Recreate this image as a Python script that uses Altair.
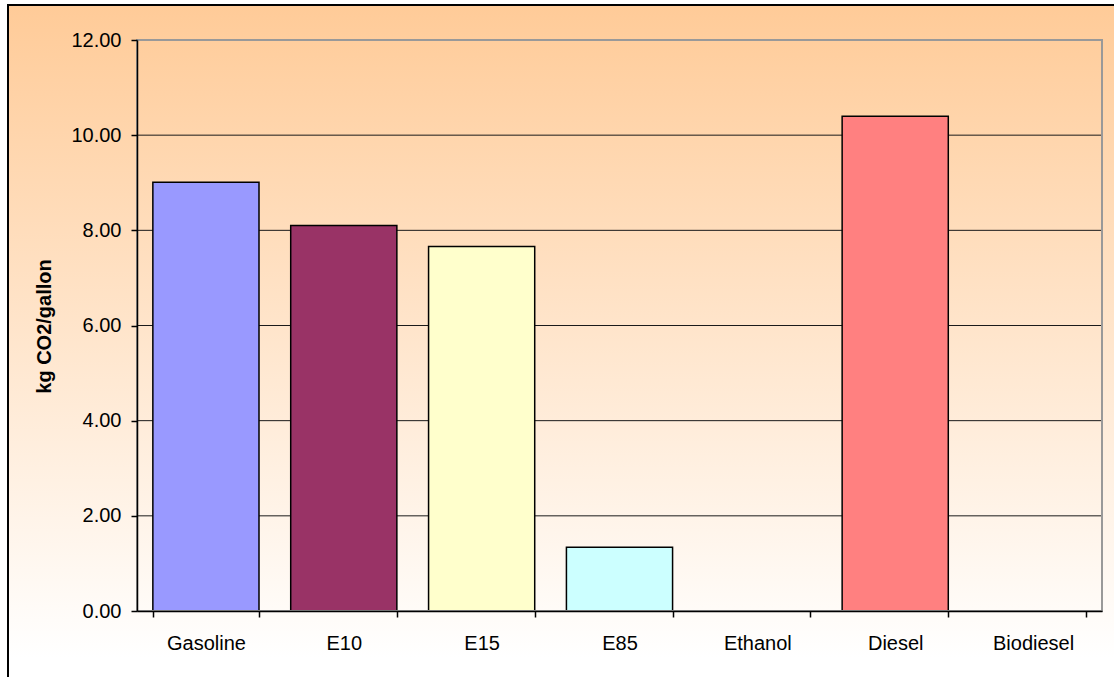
import altair as alt
import pandas as pd

fuels = ["Gasoline", "E10", "E15", "E85", "Ethanol", "Diesel", "Biodiesel"]
co2 = [9.01, 8.10, 7.66, 1.34, 0.0, 10.40, 0.0]
bar_colors = ["#9999FF", "#993366", "#FFFFCC", "#CCFFFF", "#660066", "#FF8080", "#0066CC"]
y_ticks = [0, 2, 4, 6, 8, 10, 12]
grid_vals = [2, 4, 6, 8, 10]

W, H = 965, 571
PL, PT, PR, PB = 137, 40, 12, 66
FONT = "Liberation Sans"

df = pd.DataFrame({"fuel": fuels, "co2": co2})
grid_df = pd.DataFrame({"co2": grid_vals})

yscale = alt.Scale(domain=[0, 12], nice=False, zero=True)
yaxis = alt.Axis(values=y_ticks, format=".2f", grid=False,
                 labelFont=FONT, labelFontSize=20, labelColor="#000000",
                 labelPadding=10, tickSize=6, tickColor="#000000",
                 domainColor="#000000", domainWidth=1.5, tickWidth=1.5,
                 titleFont=FONT, titleFontSize=20, titleFontWeight="bold",
                 titleColor="#000000", titleAngle=-90, titleX=-93,
                 titleY=286, titleAlign="center", titleBaseline="middle",
                 zindex=1)

bg = alt.Chart(alt.Data(values=[{"a": 1}])).mark_rect(
    fill=alt.Gradient(
        gradient="linear",
        stops=[alt.GradientStop(color="#FFCB98", offset=0),
               alt.GradientStop(color="#FFFFFF", offset=0.93)],
        x1=0, x2=0, y1=0, y2=1,
    ),
    stroke="#000000",
    strokeWidth=2,
).encode(
    x=alt.value(8 - PL), x2=alt.value(1114 - PL + 30),
    y=alt.value(5 - PT), y2=alt.value(677 - PT + 30),
)

grid = alt.Chart(grid_df).mark_rule(color="#1a1a1a", strokeWidth=1).encode(
    y=alt.Y("co2:Q", scale=yscale, title="kg CO2/gallon", axis=yaxis),
)

bars = alt.Chart(df).mark_bar(stroke="#000000", strokeWidth=1.5).encode(
    x=alt.X("fuel:N", sort=fuels, title=None,
            scale=alt.Scale(paddingInner=0.23, paddingOuter=0.115),
            axis=alt.Axis(labelAngle=0, labelFont=FONT, labelFontSize=20,
                          labelColor="#000000", labelBaseline="alphabetic",
                          labelPadding=32, tickSize=6, tickBand="extent",
                          tickColor="#000000", domainColor="#000000",
                          domainWidth=1.5, tickWidth=1.5, zindex=1)),
    y=alt.Y("co2:Q", scale=yscale, title="kg CO2/gallon", axis=yaxis),
    color=alt.Color("fuel:N", scale=alt.Scale(domain=fuels, range=bar_colors),
                    legend=None),
)

border = alt.Chart(alt.Data(values=[{"a": 1}])).mark_rect(
    fill="transparent", stroke="#999999", strokeWidth=2,
).encode(
    x=alt.value(0), x2=alt.value(W), y=alt.value(0), y2=alt.value(H),
)

chart = alt.layer(bg, grid, bars, border).properties(
    width=W, height=H,
    autosize=alt.AutoSizeParams(type="none"),
    padding={"left": PL, "top": PT, "right": PR, "bottom": PB},
).configure_view(stroke=None).configure(background="#FFFFFF")

chart.save("out.html", embed_options={"renderer": "svg", "actions": False})
